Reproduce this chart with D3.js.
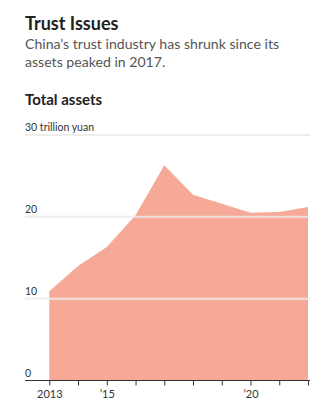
<!DOCTYPE html>
<html>
<head>
<meta charset="utf-8">
<script src="https://cdn.jsdelivr.net/npm/d3@7"></script>
<style>
  body { margin: 0; background: #fff; }
  svg { display: block; font-family: Lato, "Noto Sans", sans-serif; }
</style>
</head>
<body>
<svg id="chart" width="324" height="410"></svg>
<script>
const years = [2013, 2014, 2015, 2016, 2017, 2018, 2019, 2020, 2021, 2022];
const assets = [10.9, 14.0, 16.3, 20.2, 26.3, 22.7, 21.6, 20.5, 20.6, 21.2];
const yTicks = [0, 10, 20, 30];
const yTickLabels = ["0", "10", "20", "30 trillion yuan"];
const xLabelYears = [2013, 2015, 2020];
const xLabels = ["2013", "\u201915", "\u201920"];

const svg = d3.select("#chart");

svg.append("text").attr("x", 25).attr("y", 30)
  .attr("font-size", 18).attr("font-weight", 700).attr("fill", "#222")
  .text("Trust Issues");
const sub = ["China\u2019s trust industry has shrunk since its", "assets peaked in 2017."];
sub.forEach((t, i) => {
  svg.append("text").attr("x", 25).attr("y", 48.5 + i * 18.5)
    .attr("font-size", 14.1).attr("fill", "#555").text(t);
});
svg.append("text").attr("x", 25).attr("y", 105)
  .attr("font-size", 15).attr("font-weight", 700).attr("fill", "#222")
  .text("Total assets");

const x = d3.scaleLinear().domain([2013, 2022]).range([49.3, 308]);
const y = d3.scaleLinear().domain([0, 30]).range([380.5, 135]);

const data = years.map((yr, i) => ({ yr, v: assets[i] }));

svg.append("path").datum(data)
  .attr("fill", "#f6a996")
  .attr("d", d3.area().x(d => x(d.yr)).y0(y(0)).y1(d => y(d.v)));

// gridlines
const g = svg.append("g");
yTicks.filter(t => t > 0).forEach((t, i) => {
  g.append("line").attr("x1", 25).attr("x2", 310)
    .attr("y1", y(t)).attr("y2", y(t))
    .attr("stroke", "#ebebeb").attr("stroke-opacity", 0.85).attr("stroke-width", 2);
});
yTicks.forEach((t, i) => {
  g.append("text").attr("x", 25).attr("y", y(t) - 4)
    .attr("font-size", 10.5).attr("fill", "#333").text(yTickLabels[i]);
});

// x axis
const axis = d3.axisBottom(x).tickValues(years).tickSize(5).tickFormat(d => {
  const k = xLabelYears.indexOf(d);
  return k >= 0 ? xLabels[k] : "";
});
const ax = svg.append("g").attr("transform", `translate(0,${y(0)})`).call(axis);
ax.select(".domain").remove();
ax.append("line").attr("x1", 25).attr("x2", 310).attr("y1", 0).attr("y2", 0)
  .attr("stroke", "#333").attr("stroke-width", 1.2);
ax.selectAll(".tick line").attr("stroke", "#333");
ax.selectAll(".tick text").attr("font-size", 11).attr("fill", "#333")
  .attr("font-family", "Lato, sans-serif").attr("dy", "0.9em");
</script>
</body>
</html>
